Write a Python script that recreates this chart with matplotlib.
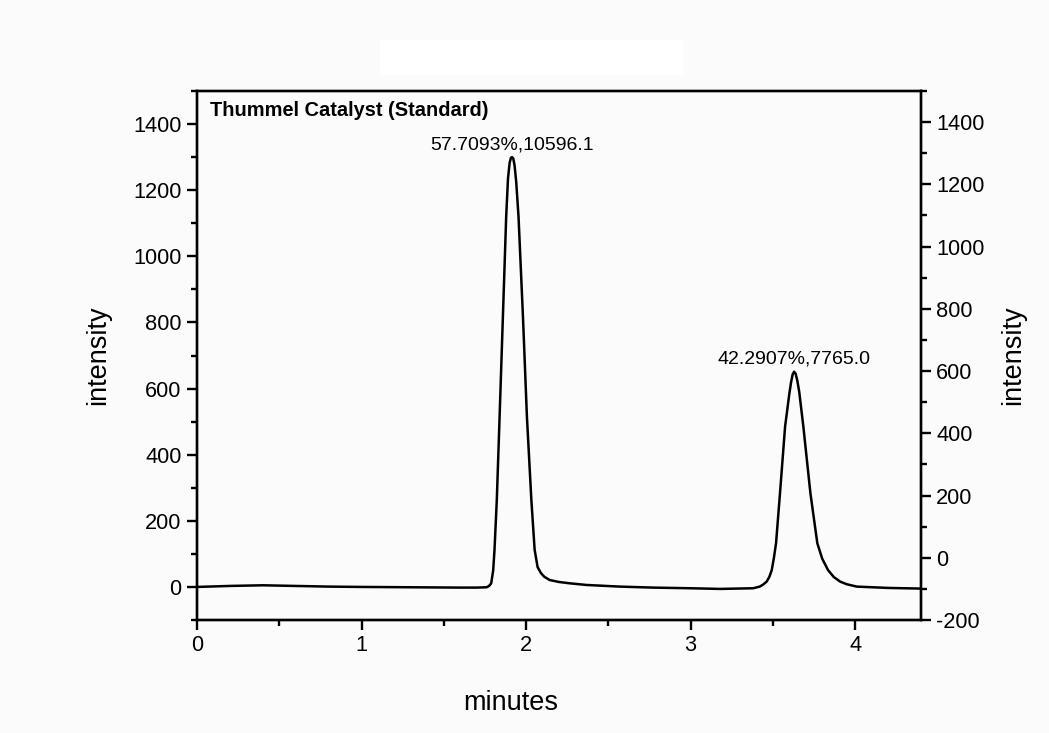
import matplotlib.pyplot as plt
from matplotlib.patches import Rectangle
from matplotlib.ticker import MultipleLocator

plt.rcParams['font.family'] = ['Liberation Sans', 'DejaVu Sans']
plt.rcParams['axes.unicode_minus'] = False

# Chromatogram trace (minutes, intensity)
minutes = [0.0, 0.2, 0.4, 0.6, 0.8, 1.0, 1.3, 1.6, 1.70, 1.76, 1.775, 1.788,
           1.800, 1.808, 1.822, 1.839, 1.859, 1.879, 1.890, 1.900, 1.908,
           1.915, 1.922, 1.930, 1.940, 1.954, 1.981, 2.005, 2.032, 2.052,
           2.070, 2.090, 2.110, 2.143, 2.200, 2.265, 2.366, 2.57, 2.77,
           3.0, 3.18, 3.38, 3.42, 3.44, 3.462, 3.478, 3.493, 3.506, 3.519,
           3.543, 3.574, 3.600, 3.610, 3.620, 3.629, 3.638, 3.648, 3.660,
           3.685, 3.728, 3.770, 3.800, 3.835, 3.870, 3.909, 3.95, 4.010,
           4.2, 4.4]
intensity = [0, 3, 5, 3, 1, 0, -1, -2, -2, -1, 3, 11,
             50, 112, 263, 515, 817, 1120, 1235, 1283, 1298,
             1300, 1296, 1275, 1225, 1120, 817, 515, 263, 112,
             60, 42, 31, 21, 15, 11, 6, 1, -2,
             -4, -6, -4, 1, 7, 16, 30, 51, 88, 132,
             283, 485, 585, 618, 643, 651, 645, 625, 590,
             485, 283, 132, 85, 51, 30, 16, 8, 1,
             -3, -5]

peak_times = [1.915, 3.629]
peak_heights = [1300, 651]
peak_labels = ['57.7093%,10596.1', '42.2907%,7765.0']

bg = '#fbfbfb'
fig = plt.figure(figsize=(10.49, 7.33), dpi=100, facecolor=bg)
ax = fig.add_axes([197/1049, 113/733, 724/1049, 529/733], facecolor=bg)

# blank box above the plot
fig.patches.append(Rectangle((380/1049, 1 - 75/733), 303/1049, 35/733,
                             transform=fig.transFigure, facecolor='white',
                             edgecolor='none'))

ax.plot(minutes, intensity, color='black', lw=1.8)

for t, h, lab in zip(peak_times, peak_heights, peak_labels):
    ax.text(t, h + 12, lab, ha='center', va='bottom', fontsize=14)

ax.text(0.018, 0.964, 'Thummel Catalyst (Standard)', transform=ax.transAxes,
        fontsize=14.4, fontweight='bold', ha='left', va='center')

ax.set_xlim(0, 4.4)
ax.set_ylim(-100, 1500)
ax.xaxis.set_major_locator(MultipleLocator(1))
ax.xaxis.set_minor_locator(MultipleLocator(0.5))
ax.yaxis.set_minor_locator(MultipleLocator(100))
ax.set_yticks(range(0, 1401, 200))

ax2 = ax.twinx()
ax2.set_ylim(-200, 1500)
ax2.yaxis.set_minor_locator(MultipleLocator(100))
ax2.set_yticks(range(-200, 1401, 200))

for a in (ax, ax2):
    for s in a.spines.values():
        s.set_linewidth(1.7)
    a.tick_params(which='major', direction='out', length=7, width=1.7,
                  labelsize=15.7, pad=4)
    a.tick_params(which='minor', direction='out', length=4, width=1.7)

ax.set_xlabel('minutes', fontsize=19.5)
ax.set_ylabel('intensity', fontsize=19.5, va='center')
ax2.set_ylabel('intensity', fontsize=19.5, va='center')
ax.xaxis.set_label_coords(0.433, -0.132)
ax.yaxis.set_label_coords(-0.137, 0.5)
ax2.yaxis.set_label_coords(1.127, 0.5)

plt.savefig('out.png', dpi=100, facecolor=bg)
